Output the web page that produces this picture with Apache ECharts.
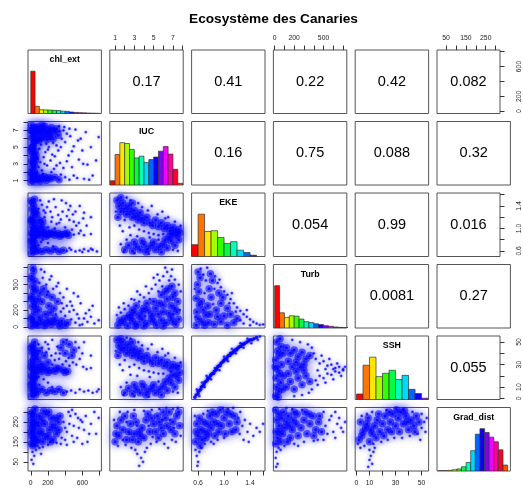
<!DOCTYPE html>
<html><head><meta charset="utf-8">
<script src="https://cdn.jsdelivr.net/npm/echarts@6/dist/echarts.min.js"></script>
<style>html,body{margin:0;padding:0;background:#fff}#c{width:523px;height:489px}</style>
</head><body><div id="c"></div><script>
// ---------- variables & axes ----------
const varNames = ['chl_ext','IUC','EKE','Turb','SSH','Grad_dist'];
const axisMin = [-32, 0.46, 0.50, -13, -1, 4];
const axisMax = [822, 8.06, 1.63, 738, 55.4, 322];
const tickValues = [[0,200,400,600,800],[1,2,3,4,5,6,7,8],[0.6,0.8,1.0,1.2,1.4,1.6],[0,100,200,300,400,500,600,700],[0,10,20,30,40,50],[50,100,150,200,250,300]];
const tickLabels = [[0,200,600],[1,3,5,7],[0.6,1.0,1.4],[0,200,500],[0,10,30,50],[50,150,250]];
const corrText = [['0.17','0.41','0.22','0.42','0.082'],['0.16','0.75','0.088','0.32'],['0.054','0.99','0.016'],['0.0081','0.27'],['0.055']];
// ---------- histograms (relative heights, max = 1) ----------
const histStart = [0, 0.5, 0.5, 0, 0, 10];
const histWidth = [50, 0.5, 0.1, 50, 5, 20];
const histChl = [1.0,0.17,0.09,0.085,0.08,0.075,0.07,0.055,0.05,0.035,0.025,0.02,0.015,0.01,0.008,0.005];
const histIUC = [0.10,0.72,1.0,0.98,0.84,0.64,0.68,0.53,0.60,0.66,0.80,0.91,0.73,0.37,0.04];
const histEKE = [0.28,1.0,0.59,0.61,0.45,0.31,0.35,0.15,0.094,0.03];
const histTurb = [1.0,0.36,0.25,0.29,0.28,0.21,0.15,0.13,0.10,0.08,0.055,0.04,0.025,0.015,0.01];
const histSSH = [0.13,0.81,1.0,0.54,0.62,0.69,0.47,0.57,0.24,0.14,0.03];
const histGrad = [0.005,0.008,0.015,0.03,0.05,0.1,0.2,0.48,0.87,1.0,0.91,0.80,0.69,0.50,0.14];
// ---------- scatter clouds [x, y] in data units ----------
const chlIucDense = [[10,1.0],[30,1.3],[15,1.7],[40,2.1],[20,2.5],[45,2.9],[10,3.3],[35,3.7],[20,4.1],[50,4.5],[10,4.9],[30,5.3],[45,5.7],[15,6.1],[35,6.5],[20,6.9],[45,7.3],[10,7.6],[55,1.2],[5,2.0],[55,3.5],[5,4.6],[55,6.0],[5,7.0],[25,0.9],[60,4.0],[60,7.0],[25,5.0],[40,1.6],[25,3.0],
[80,7.4],[120,7.1],[160,7.5],[200,7.0],[240,7.3],[280,6.9],[100,6.6],[140,6.2],[180,6.6],[220,6.3],[260,6.0],[90,5.8],[130,7.6],[300,7.2],[190,5.9],[75,6.9],[320,6.4],[150,6.9],[230,6.8],[110,6.0],
[80,1.1],[130,1.3],[180,1.0],[230,1.2],[280,1.4],[330,1.1],[110,0.95],[160,1.45],[70,1.5],[210,1.35]];
const chlIucSparse = [[70,2.0],[90,2.6],[110,3.2],[130,2.2],[150,3.8],[170,4.4],[190,2.8],[210,5.0],[230,3.4],[250,4.1],[270,2.4],[100,4.8],[120,5.3],[140,1.8],[160,3.0],[200,4.7],[240,2.0],[280,3.9],[300,5.2],[80,3.6],[180,5.4],[260,5.5],[320,4.6],[340,3.1],[360,6.0],[380,7.0],[400,5.6],[420,6.6],[440,4.0],[460,6.3],[480,2.6],[500,5.1],[520,7.1],[540,1.3],[560,3.5],[580,6.0],[600,4.6],[620,1.2],[640,6.8],[660,2.9],[700,5.0],[720,1.6],[760,3.4],[790,6.2],[350,1.7],[400,1.4],[450,1.1],[500,1.6],[380,2.5],[420,3.3],[340,6.9],[390,7.4],[450,7.2],[350,5.0],[480,4.5],[550,5.8],[610,3.0],[680,1.1],[300,2.8],[330,7.5]];
const chlEkeDense = [[10,0.56],[30,0.62],[15,0.68],[45,0.74],[20,0.80],[40,0.86],[10,0.92],[35,0.98],[20,1.04],[50,1.10],[10,1.16],[30,1.22],[45,1.28],[15,1.34],[35,1.40],[20,1.46],[45,1.52],[55,0.59],[5,0.77],[55,0.95],[5,1.13],[55,1.31],[5,1.49],[25,0.89],[40,0.65],
[80,0.90],[120,0.88],[160,0.91],[200,0.89],[240,0.90],[280,0.88],[320,0.91],[360,0.89],[400,0.90],[440,0.88],[100,0.93],[180,0.86],[260,0.93],[340,0.86],[420,0.92],
[80,0.61],[130,0.59],[180,0.62],[230,0.60],[280,0.63],[330,0.59],[380,0.61],
[80,1.0],[120,1.05],[150,0.98],[100,1.15],[140,1.12],[70,1.25]];
const chlEkeSparse = [[90,1.35],[130,1.42],[170,1.28],[210,1.48],[250,1.20],[290,1.38],[330,1.10],[370,1.30],[410,1.45],[450,1.15],[490,1.25],[530,1.05],[570,1.40],[610,1.18],[200,1.02],[240,1.12],[280,1.00],[160,1.20],[320,1.24],[360,1.50],[400,1.02],[440,1.33],[480,0.98],[520,1.30],[560,1.10],[110,1.50],[190,1.38],[230,1.30],[270,1.52],[300,1.08],[350,1.16],[420,1.22],[460,1.40],[500,1.12],[580,0.96],[620,1.28],[650,1.05],[700,1.20],[210,0.96],[150,1.32],
[420,0.60],[470,0.62],[520,0.59],[570,0.61],[620,0.63],[670,0.60],[720,0.62],[770,0.59],[450,0.65],[600,0.58],[700,0.64],
[90,0.70],[140,0.80],[200,0.74],[260,0.68],[120,0.76],[70,0.84],[500,0.89],[560,0.91],[620,0.88],[700,0.90]];
const iucEkeDense = [[1.2,1.50],[1.4,1.40],[1.6,1.30],[1.8,1.45],[2.0,1.35],[2.2,1.25],[1.3,1.20],[2.4,1.40],[2.6,1.30],[2.8,1.20],[3.0,1.32],[3.2,1.22],[3.4,1.15],[3.6,1.28],[3.8,1.18],[4.0,1.10],[4.3,1.20],[4.6,1.10],[4.9,1.05],[5.2,1.15],[5.5,1.03],[5.8,1.10],[6.1,1.00],[6.4,1.05],[6.7,0.96],[7.0,1.02],[7.3,0.94],[7.6,0.98],[1.6,1.55],[2.8,1.45],
[2.0,0.62],[2.4,0.70],[2.8,0.60],[3.2,0.68],[3.6,0.62],[4.0,0.72],[4.4,0.64],[4.8,0.70],[5.2,0.62],[5.6,0.68],[6.0,0.72],[6.4,0.65],[6.8,0.78],[7.2,0.70],[7.6,0.80],[3.0,0.76],[4.2,0.58],[5.0,0.76],[5.8,0.58],[6.6,0.85],[7.0,0.90],[7.4,0.88],[7.7,0.92],[6.2,0.80],[3.8,0.78]];
const iucEkeSparse = [[1.5,1.05],[2.0,1.15],[2.5,1.02],[3.0,1.05],[3.5,0.98],[4.0,0.95],[4.5,0.92],[5.0,0.90],[5.5,0.88],[1.1,1.30],[2.2,1.55],[3.4,1.45],[4.4,1.32],[5.4,1.25],[6.2,1.18],[7.2,1.12],[1.8,0.95],[2.6,0.88],[3.3,0.86],[4.6,0.84],[6.0,0.90],[6.8,0.90],[1.6,0.72],[2.2,0.80],[1.9,0.58],[7.5,0.60],[7.0,0.62],[3.0,0.56],[4.5,0.55],[5.5,0.80],[4.8,1.40],[3.8,1.38],[6.5,1.20],[5.9,1.30],[7.8,1.05],[2.6,1.50]];
const chlTurbDense = [[10,10],[30,60],[15,120],[45,180],[20,240],[40,300],[10,360],[35,420],[20,480],[50,540],[15,600],[35,660],[25,700],[55,30],[5,90],[55,250],[5,330],[55,450],[5,560],
[80,20],[120,60],[160,15],[200,80],[240,30],[280,100],[320,40],[360,70],[400,20],[100,110],[180,40],[260,60],[340,10],[430,50],
[90,200],[130,300],[170,150],[210,250],[250,350],[110,400],[150,450],[190,380],[230,170],[270,220],[310,300],[80,330]];
const chlTurbSparse = [[100,520],[140,580],[180,500],[220,560],[260,450],[300,480],[340,400],[380,350],[420,250],[460,300],[500,200],[540,150],[580,280],[620,100],[660,60],[700,120],[740,40],[790,80],[400,130],[450,180],[350,180],[500,400],[550,360],[600,30],[680,200],[320,520],[240,600],[160,650],[120,680],[420,450],[470,90],[520,50],[570,20],[640,160],[380,220],[290,150],[200,420],[360,280],[480,250],[560,100],[720,250]];
const iucTurbDense = [[1.3,20],[1.8,50],[2.3,15],[2.8,70],[3.3,30],[3.8,90],[4.3,40],[4.8,100],[5.3,20],[5.8,80],[6.3,50],[6.8,110],[7.3,30],[7.6,90],[1.5,80],[2.0,100],[2.6,110],[3.1,10],[4.0,10],[5.0,60],[6.0,10],[7.0,60],
[4.8,150],[5.2,220],[5.6,280],[6.0,180],[6.4,330],[6.8,250],[7.2,400],[7.5,300],[5.5,150],[6.2,420],[6.9,480],[7.4,180],[5.0,300],[5.8,380],[6.6,160],[7.0,350],[4.4,200],[6.0,260],[7.2,220],[6.5,450],
[2.5,140],[3.0,170],[3.5,130],[4.0,220],[3.2,250],[3.8,180],[4.3,280],[2.8,200]];
const iucTurbSparse = [[1.2,140],[1.6,170],[2.0,210],[2.4,250],[3.0,320],[3.5,300],[4.0,350],[4.5,400],[4.8,450],[5.2,500],[5.6,550],[6.0,600],[6.4,650],[6.8,600],[7.2,560],[7.6,500],[5.0,580],[6.2,700],[5.5,420],[4.2,480],[3.6,380],[2.2,130],[1.9,280],[7.8,420],[7.7,200],[6.6,550],[5.9,480],[4.6,330],[3.3,420],[2.7,330],[5.4,620],[6.9,680],[7.0,150],[1.4,230],[4.1,130]];
const ekeTurbDense = [[0.57,20],[0.60,100],[0.58,180],[0.62,260],[0.57,340],[0.61,420],[0.59,500],[0.63,580],[0.60,650],[0.66,60],[0.65,300],
[0.76,50],[0.78,150],[0.75,250],[0.80,350],[0.77,450],[0.82,550],[0.79,630],
[0.70,20],[0.85,30],[0.95,60],[1.05,20],[1.15,50],[0.90,120],[1.00,130],[0.72,140],[0.88,200],[0.95,280],[1.05,220],[1.10,150],[0.92,400],[0.98,350],[1.20,100],[0.68,200]];
const ekeTurbSparse = [[0.86,600],[0.90,520],[0.95,470],[1.00,420],[1.05,380],[1.10,330],[1.15,280],[1.20,230],[1.25,190],[1.30,150],[1.35,120],[1.40,90],[1.45,60],[1.50,40],[1.55,25],[1.30,40],[1.40,20],[1.25,80],[0.70,400],[0.72,550],[0.68,620],[0.85,450],[0.83,270],[0.74,700],[1.12,400],[1.18,180],[1.60,30],[1.35,200],[1.08,280],[0.93,560],[0.64,690],[0.55,450],[0.56,120]];
const chlSshDense = [[10,2],[30,5],[15,8],[45,11],[20,14],[40,17],[10,20],[35,23],[20,26],[50,29],[10,32],[30,35],[45,38],[15,41],[35,44],[20,47],[45,50],[55,3],[5,12],[55,20],[5,28],[55,40],[5,45],[25,18],[40,8],
[80,25],[130,24],[180,26],[230,25],[280,24],[330,26],[380,25],[430,24],[110,27],[200,23],[300,27],[400,23],
[80,6],[130,8],[180,5],[230,7],[280,6],[330,8],[380,5],
[80,35],[120,30],[160,38],[100,42],[200,32],[140,28],
[350,45],[400,40],[450,48],[500,43],[380,50],[480,38]];
const chlSshSparse = [[90,48],[130,45],[170,50],[210,44],[250,52],[290,40],[330,35],[370,30],[410,33],[450,29],[490,32],[530,30],[570,35],[610,28],[650,26],[700,27],[250,30],[280,34],[310,46],[200,48],[560,45],[600,40],[620,50],[700,38],[520,50],[420,52],[240,38],[180,41],[440,36],[340,40],
[420,6],[470,7],[520,5],[570,8],[620,6],[670,7],[720,5],[770,6],[790,8],[100,12],[150,17],[200,14],[90,19],[250,10]];
const iucSshDense = [[1.2,52],[1.4,47],[1.6,43],[1.8,50],[2.0,45],[2.2,40],[1.3,38],[2.4,48],[2.6,43],[2.8,38],[3.0,44],[3.2,40],[3.4,36],[3.6,42],[3.8,37],[4.0,33],[4.3,38],[4.6,34],[4.9,31],[5.2,36],[5.5,31],[5.8,34],[6.1,29],[6.4,32],[6.7,27],[7.0,30],[7.3,27],[7.6,29],[1.6,53],[2.8,50],
[2.0,5],[2.4,9],[2.8,4],[3.2,8],[3.6,5],[4.0,10],[4.4,6],[4.8,9],[5.2,5],[5.6,8],[6.0,11],[6.4,7],[6.8,14],[7.2,10],[7.6,16],[3.0,12],[4.2,3],[5.0,12],[5.8,3],[6.6,18],[7.0,21],[7.4,20],[7.7,23],[6.2,15],[3.8,13]];
const iucSshSparse = [[1.5,30],[2.0,34],[2.5,28],[3.0,30],[3.5,27],[4.0,25],[4.5,24],[5.0,23],[5.5,22],[1.1,42],[2.2,54],[3.4,50],[4.4,44],[5.4,41],[6.2,38],[7.2,36],[1.8,25],[2.6,21],[3.3,20],[4.6,19],[6.0,22],[6.8,24],[1.6,10],[2.2,14],[1.9,3],[7.5,5],[7.0,6],[3.0,2],[4.5,1.5],[5.5,15],[4.8,48],[3.8,47],[6.5,40],[5.9,44],[7.8,32],[2.6,53]];
const ekeSshDense = [[0.55,1],[0.57,3],[0.60,4],[0.60,6],[0.62,7],[0.64,8],[0.65,10],[0.67,11],[0.69,12],[0.70,14],[0.72,15],[0.74,16],[0.75,18],[0.77,18],[0.79,20],[0.80,21],[0.82,22],[0.84,22],[0.85,24],[0.87,25],[0.89,26],[0.90,28],[0.92,29],[0.94,29],[0.95,31],[0.97,32],[0.99,33],[1.00,34],[1.02,35],[1.04,35],[1.05,37],[1.07,38],[1.09,38],[1.10,40],[1.12,40],[1.14,41],[1.15,42],[1.17,43],[1.19,43],[1.20,44],[1.22,45],[1.24,46],[1.26,46],[1.28,48],[1.30,48],[1.32,49],[1.35,50],[1.38,51],[1.40,52],[1.43,52],[1.46,53],[1.50,54]];
const ekeSshSparse = [[0.58,8],[0.66,14],[0.73,20],[0.80,17],[0.86,27],[0.93,25],[1.00,37],[1.06,33],[1.12,44],[1.18,40],[1.25,49],[1.30,45],[1.36,53],[1.42,49],[1.52,52],[1.55,55],[0.62,2],[0.70,10]];
const turbSshDense = [[10,2],[40,6],[20,10],[60,14],[15,18],[50,22],[25,26],[70,30],[10,34],[45,38],[30,42],[65,46],[20,50],[80,8],[85,40],[5,28],[90,20],[55,53],[35,1],
[120,45],[160,40],[200,43],[240,37],[280,41],[320,35],[360,38],[140,33],[220,32],[300,30],[120,10],[160,15],[200,8],[240,18],[280,12],[320,20],[360,15],[140,22],[220,24],[300,25],[180,28],[260,28]];
const turbSshSparse = [[420,35],[460,31],[500,33],[540,29],[580,30],[620,27],[660,28],[700,26],[420,16],[460,20],[500,18],[540,22],[580,21],[620,24],[660,23],[700,25],[440,25],[520,26],[600,26],[400,40],[480,38],[560,35],[380,45],[340,48],[260,50],[180,52],[380,8],[440,12],[520,14],[350,5],[280,3],[200,2],[640,31],[720,28],[680,20],[600,17]];
const chlGradDense = [[10,140],[30,160],[15,180],[45,200],[20,220],[40,240],[10,260],[35,280],[20,300],[50,315],[55,150],[5,200],[55,250],[5,290],[25,130],[40,170],[15,235],
[80,160],[120,200],[160,240],[200,180],[240,270],[280,220],[320,250],[100,280],[140,150],[180,290],[220,210],[260,160],[300,190],[340,280],[90,230],[130,260],[170,175],[210,300],[250,235],[290,270],[330,210],[110,190],[150,305],[230,150]];
const chlGradSparse = [[380,250],[420,200],[460,280],[500,230],[540,170],[580,260],[620,210],[660,150],[700,240],[760,190],[790,270],[400,160],[440,300],[480,180],[520,290],[560,220],[600,140],[640,280],[680,190],[360,170],[400,220],[450,240],[500,150],[550,270],[600,250],[20,100],[40,80],[10,60],[30,40],[60,110],[80,130],[100,120],[120,90],[50,130],[140,125],[200,135],[300,145],[350,140],[420,135],[740,300],[480,310]];
const iucGradDense = [[1.0,150],[1.4,180],[1.8,210],[2.2,160],[2.6,240],[3.0,190],[3.4,150],[3.8,220],[4.2,260],[4.6,200],[5.0,240],[5.4,280],[5.8,220],[6.2,270],[6.6,300],[7.0,250],[7.4,280],[7.7,230],[1.2,230],[1.6,260],[2.0,280],[2.4,200],[2.8,160],[3.2,250],[3.6,180],[4.0,170],[4.4,290],[4.8,270],[5.2,200],[5.6,250],[6.0,190],[6.4,230],[6.8,210],[7.2,190],[7.6,300],[1.1,190],[2.9,280],[6.0,300],[3.5,200],[5.5,170]];
const iucGradSparse = [[1.3,130],[2.1,135],[2.7,120],[3.1,110],[3.3,90],[3.7,70],[3.9,50],[3.5,30],[4.3,120],[4.1,100],[4.7,140],[5.3,150],[6.1,140],[6.5,120],[6.9,160],[7.3,150],[7.8,180],[1.5,300],[2.3,300],[3.0,310],[4.0,305],[4.8,310],[5.6,315],[6.3,320],[7.0,315],[7.5,320],[0.9,260],[1.8,160],[2.5,190],[4.5,230],[5.9,260],[6.7,260],[7.1,220],[3.3,230],[4.9,175],[2.2,250]];
const ekeGradDense = [[0.56,150],[0.60,180],[0.64,210],[0.58,240],[0.62,270],[0.66,160],[0.70,200],[0.74,240],[0.78,280],[0.68,250],[0.72,170],[0.76,190],[0.80,220],[0.84,250],[0.88,290],[0.92,200],[0.96,230],[1.00,270],[1.04,300],[1.08,240],[1.12,200],[1.16,280],[1.20,250],[0.86,180],[0.94,310],[1.02,190],[1.10,290],[0.82,300],[0.57,200],[0.63,130],[0.90,240],[1.18,210]];
const ekeGradSparse = [[0.56,110],[0.58,80],[0.60,50],[0.59,30],[0.62,100],[0.65,120],[0.70,140],[0.80,150],[0.90,160],[1.00,170],[1.24,190],[1.28,230],[1.32,260],[1.36,200],[1.40,240],[1.45,180],[1.50,220],[1.55,200],[1.25,300],[1.30,160],[1.14,320],[1.06,315],[0.98,320],[0.75,305],[0.68,290],[0.55,280],[1.38,150],[1.60,240],[1.22,270],[0.84,140]];
const turbGradDense = [[10,140],[30,170],[15,200],[45,230],[20,260],[40,290],[10,310],[60,150],[80,190],[100,220],[120,250],[140,280],[160,170],[180,210],[200,300],[220,240],[240,180],[70,270],[130,150],[190,260],[90,300],[230,290],[50,200],[150,230],
[270,220],[300,260],[330,190],[360,240],[390,280],[420,210],[450,250],[480,200],[310,300],[400,180],[350,290],[460,280]];
const turbGradSparse = [[520,230],[560,260],[600,200],[640,240],[680,220],[720,250],[540,190],[580,280],[620,170],[660,270],[700,200],[500,160],[20,100],[10,70],[30,40],[40,120],[60,110],[15,25],[100,130],[200,140],[300,150],[400,155],[280,310],[180,315],[120,320],[500,300],[620,300],[440,160],[240,130]];
const sshGradDense = [[2,160],[5,200],[8,240],[4,180],[7,220],[10,150],[12,190],[14,230],[16,260],[18,200],[20,240],[22,280],[24,210],[26,250],[28,290],[30,230],[32,270],[34,300],[36,240],[38,280],[40,210],[42,260],[44,230],[46,280],[48,250],[3,250],[9,270],[15,170],[21,180],[27,200],[33,200],[39,250],[45,200],[11,210],[17,290],[25,300],[31,310],[37,305]];
const sshGradSparse = [[1,140],[6,130],[13,140],[19,150],[24,160],[29,170],[35,170],[41,180],[47,190],[50,220],[52,250],[54,270],[50,290],[43,300],[36,315],[30,320],[23,310],[12,300],[4,280],[10,110],[11,80],[10,60],[12,40],[9,25],[14,120],[13,100],[49,160],[53,200],[3,120],[8,290]];

// ---------- build chart ----------
const histData = [histChl, histIUC, histEKE, histTurb, histSSH, histGrad];
const panels = [
  [1,0,chlIucDense,chlIucSparse],
  [2,0,chlEkeDense,chlEkeSparse],[2,1,iucEkeDense,iucEkeSparse],
  [3,0,chlTurbDense,chlTurbSparse],[3,1,iucTurbDense,iucTurbSparse],[3,2,ekeTurbDense,ekeTurbSparse],
  [4,0,chlSshDense,chlSshSparse],[4,1,iucSshDense,iucSshSparse],[4,2,ekeSshDense,ekeSshSparse],[4,3,turbSshDense,turbSshSparse],
  [5,0,chlGradDense,chlGradSparse],[5,1,iucGradDense,iucGradSparse],[5,2,ekeGradDense,ekeGradSparse],[5,3,turbGradDense,turbGradSparse],[5,4,sshGradDense,sshGradSparse]
];
const FONT = '"Liberation Sans", Arial, Helvetica, sans-serif';
function hsv(h){h=((h%360)+360)%360;const x=1-Math.abs((h/60)%2-1);let r,g,b;
  if(h<60){r=1;g=x;b=0}else if(h<120){r=x;g=1;b=0}else if(h<180){r=0;g=1;b=x}else if(h<240){r=0;g=x;b=1}else if(h<300){r=x;g=0;b=1}else{r=1;g=0;b=x}
  return 'rgb('+Math.round(r*255)+','+Math.round(g*255)+','+Math.round(b*255)+')';}
const N=6, grids=[], xAxes=[], yAxes=[], series=[];
function fmt(vi){return v => vi===2 ? Number(v).toFixed(1) : String(v);}
function axis(gi, vi, pos, isY, range){
  const a = {type:'value', gridIndex:gi, min:range?range[0]:axisMin[vi], max:range?range[1]:axisMax[vi], splitLine:{show:false}};
  if(pos){
    a.position = pos;
    a.axisLine = {show:false, onZero:false};
    a.axisTick = {show:true, length:4.5, inside:false, customValues:tickValues[vi], lineStyle:{color:'#333',width:1}};
    a.axisLabel = {show:true, customValues:tickLabels[vi], fontSize:6.8, fontFamily:FONT, color:'#222', margin:(pos==='right')?16:(isY?8:8.5), rotate:isY?90:0, formatter:fmt(vi)};
  } else { a.show = false; a.axisLine = {onZero:false}; }
  return a;
}
for(let r=0;r<N;r++){
  for(let c=0;c<N;c++){
    const gi = r*N+c;
    grids.push({left:28+c*81.8, top:50+r*71.5, width:73.4, height:63.5, show:true, borderColor:'#555', borderWidth:1, containLabel:false});
    let xpos=null, ypos=null;
    if(r===0 && c%2===1) xpos='top';
    if(r===N-1 && c%2===0) xpos='bottom';
    if(c===0 && r%2===1) ypos='left';
    if(c===N-1 && r%2===0) ypos='right';
    xAxes.push(axis(gi, c, xpos, false));
    yAxes.push(r===c ? axis(gi, r, null, true, [0,1.5]) : axis(gi, r, ypos, true));
    if(r===c){
      const h = histData[r], s0 = histStart[r], w = histWidth[r];
      series.push({type:'custom', xAxisIndex:gi, yAxisIndex:gi, silent:true, clip:true,
        data: h.map((v,i)=>[s0+i*w, s0+(i+1)*w, v]),
        encode:{x:[0,1], y:2},
        renderItem:(params, api)=>{
          const p0 = api.coord([api.value(0),0]), p1 = api.coord([api.value(1), api.value(2)]);
          return {type:'rect', shape:{x:p0[0], y:p1[1], width:p1[0]-p0[0], height:p0[1]-p1[1]},
            style:{fill:hsv(params.dataIndex*27), stroke:'#333', lineWidth:0.7}};
        }});
      const name = varNames[r];
      series.push({type:'custom', xAxisIndex:gi, yAxisIndex:gi, silent:true,
        data:[[(axisMin[c]+axisMax[c])/2, 1.265]],
        renderItem:(params, api)=>{ const p = api.coord([api.value(0), api.value(1)]);
          return {type:'text', x:p[0], y:p[1], style:{text:name, fill:'#000', font:'bold 8.8px '+FONT, align:'center', verticalAlign:'middle'}}; }});
    } else if(c>r){
      const txt = corrText[r][c-r-1];
      series.push({type:'custom', xAxisIndex:gi, yAxisIndex:gi, silent:true,
        data:[[(axisMin[c]+axisMax[c])/2, (axisMin[r]+axisMax[r])/2]],
        renderItem:(params, api)=>{ const p = api.coord([api.value(0), api.value(1)]);
          return {type:'text', x:p[0], y:p[1], style:{text:txt, fill:'#000', font:'14.5px '+FONT, align:'center', verticalAlign:'middle'}}; }});
    }
  }
}
panels.forEach(([r,c,dense,sparse])=>{
  const gi = r*N+c;
  const thin = (r===4 && c===2);
  // soft glow under the clouds (canvas shadow), then the crisp points
  series.push({type:'scatter', xAxisIndex:gi, yAxisIndex:gi, data:dense, symbolSize:thin?3.5:7.5, silent:true, clip:true,
    itemStyle:{color:'rgba(0,0,255,0.7)', shadowBlur:thin?3:10, shadowColor:'rgba(0,0,255,1)'}});
  series.push({type:'scatter', xAxisIndex:gi, yAxisIndex:gi, data:sparse, symbolSize:3.2, silent:true, clip:true,
    itemStyle:{color:'rgba(0,0,255,0.6)', shadowBlur:5, shadowColor:'rgba(0,0,255,0.8)'}});
  series.push({type:'scatter', xAxisIndex:gi, yAxisIndex:gi, data:dense, symbolSize:3, silent:true, clip:true, itemStyle:{color:'#0000ff'}});
  series.push({type:'scatter', xAxisIndex:gi, yAxisIndex:gi, data:sparse, symbolSize:1.8, silent:true, clip:true, itemStyle:{color:'#0000ff'}});
});
const chart = echarts.init(document.getElementById('c'), null, {renderer:'canvas'});
chart.setOption({
  animation:false, backgroundColor:'#fff',
  title:{text:'Ecosystème des Canaries', left:184, top:7, textStyle:{fontSize:13.7, fontWeight:'bold', fontFamily:FONT, color:'#000'}},
  grid:grids, xAxis:xAxes, yAxis:yAxes, series:series
});
</script></body></html>
